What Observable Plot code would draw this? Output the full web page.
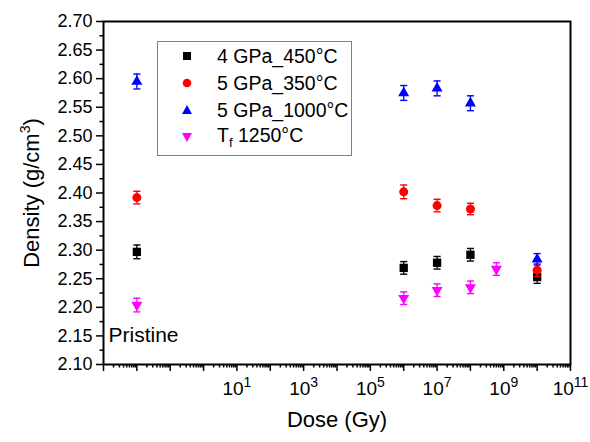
<!DOCTYPE html>
<html>
<head>
<meta charset="utf-8">
<script src="https://cdn.jsdelivr.net/npm/d3@7"></script>
<script src="https://cdn.jsdelivr.net/npm/@observablehq/plot@0.6"></script>
<style>
  body { margin: 0; background: white; }
  #wrap { position: relative; width: 590px; height: 442px; font-family: "Liberation Sans", Arial, sans-serif; }
  #legend { position: absolute; left: 157px; top: 41px; width: 195px; height: 115px; border: 1px solid #808080; background: white; box-sizing: border-box; }
  .row { position: absolute; left: 0; height: 26px; display: flex; align-items: center; font-size: 19.5px; color: #000; }
  .row svg { position: absolute; left: 23px; }
  .row span { position: absolute; left: 59px; white-space: nowrap; }
  sub { font-size: 13px; vertical-align: -5px; }
</style>
</head>
<body>
<div id="wrap"></div>
<script>
// ---- data ----
const seriesNames = ["4 GPa_450°C", "5 GPa_350°C", "5 GPa_1000°C", "T_f 1250°C"];
const seriesColors = ["#000000", "#ff0000", "#0000ff", "#ff00ff"];
const doseA = [0.01, 1e6, 1e7, 1e8, 1e10];          // 0.01 = pristine position
const doseTf = [0.01, 1e6, 1e7, 1e8, 6e8];
const density4_450 = [2.297, 2.269, 2.278, 2.292, 2.253];
const density5_350 = [2.392, 2.402, 2.378, 2.372, 2.265];
const density5_1000 = [2.595, 2.575, 2.583, 2.557, 2.284];
const densityTf = [2.204, 2.216, 2.230, 2.235, 2.267];
const err4_450 = [0.012, 0.011, 0.011, 0.011, 0.011];
const err5_350 = [0.011, 0.012, 0.011, 0.010, 0.011];
const err5_1000 = [0.013, 0.013, 0.013, 0.013, 0.010];
const errTf = [0.012, 0.011, 0.011, 0.011, 0.011];
const xMajorTicks = d3.range(-3, 12).map(e => Math.pow(10, e));
const xLabelExps = [1, 3, 5, 7, 9, 11];
const yTicks = d3.range(0, 13).map(i => +(2.10 + i * 0.05).toFixed(2));
const yMinorTicks = d3.range(0, 12).map(i => +(2.125 + i * 0.05).toFixed(3));
const annotation = ["Pristine"];

// ---- symbols ----
const triDown = {draw(ctx, size) {
  const y = Math.sqrt(size / (Math.sqrt(3) * 3));
  ctx.moveTo(0, y * 2); ctx.lineTo(-Math.sqrt(3) * y, -y); ctx.lineTo(Math.sqrt(3) * y, -y); ctx.closePath();
}};
const cap = {draw(ctx, size) { const w = Math.sqrt(size) / 2; ctx.moveTo(-w, 0); ctx.lineTo(w, 0); }};
const symbols = ["square", "circle", "triangle", triDown];
const radii = [4.7, 4.5, 4.1, 4.1];

const doses = [doseA, doseA, doseA, doseTf];
const vals = [density4_450, density5_350, density5_1000, densityTf];
const errs = [err4_450, err5_350, err5_1000, errTf];

const xMinor = [];
for (let e = -3; e < 11; e++) for (let k = 2; k <= 9; k++) xMinor.push(k * Math.pow(10, e));

const marks = [];
seriesNames.forEach((name, s) => {
  const rows = doses[s].map((d, i) => ({dose: d, y: vals[s][i], e: errs[s][i]}));
  const c = seriesColors[s];
  marks.push(Plot.ruleX(rows, {x: "dose", y1: d => d.y - d.e, y2: d => d.y + d.e, stroke: c, strokeWidth: 1.3}));
  marks.push(Plot.dot(rows, {x: "dose", y: d => d.y + d.e, symbol: cap, r: 4, stroke: c, strokeWidth: 1.4}));
  marks.push(Plot.dot(rows, {x: "dose", y: d => d.y - d.e, symbol: cap, r: 4, stroke: c, strokeWidth: 1.4}));
  marks.push(Plot.dot(rows, {x: "dose", y: "y", symbol: symbols[s], r: radii[s], fill: c, stroke: "none"}));
});

const chart = Plot.plot({
  width: 590, height: 442,
  marginLeft: 103, marginRight: 20, marginTop: 21, marginBottom: 78,
  style: {fontFamily: "Liberation Sans, Arial, sans-serif", fontSize: "17px", background: "white", color: "black", overflow: "visible"},
  x: {type: "log", domain: [1e-3, 1e11]},
  y: {domain: [2.10, 2.70]},
  marks: [
    Plot.axisX({ticks: xMinor, tickSize: 3.5, tickFormat: () => "", strokeWidth: 1.5, label: null}),
    Plot.axisX({ticks: xMajorTicks, tickSize: 7, strokeWidth: 1.5, tickPadding: 10, fontSize: 19,
      tickFormat: d => { const e = Math.round(Math.log10(d)); return xLabelExps.includes(e) ? "10^" + e : ""; },
      label: "Dose (Gy)", labelAnchor: "center", labelArrow: "none", labelOffset: 62}),
    Plot.axisY({ticks: yMinorTicks, tickSize: 3.5, tickFormat: () => "", strokeWidth: 1.5, label: null}),
    Plot.axisY({ticks: yTicks, tickSize: 7, strokeWidth: 1.5, tickPadding: 4, fontSize: 18, tickFormat: d3.format(".2f"),
      label: "Density (g/cm^3)", labelAnchor: "center", labelArrow: "none", labelOffset: 80}),
    Plot.frame({stroke: "black", strokeWidth: 2}),
    Plot.text(annotation, {frameAnchor: "bottom-left", dx: 5, dy: -23, textAnchor: "start", fontSize: 21, fill: "black"}),
    ...marks
  ]
});

// superscripts
function superscriptify(t, supSize) {
  const m = t.textContent.match(/^(.*)\^(\d+)(.*)$/);
  if (!m) return;
  const fs = parseFloat(getComputedStyle(t).fontSize) || 18;
  const raise = fs * 0.42;
  t.textContent = "";
  const ns = "http://www.w3.org/2000/svg";
  const a = document.createElementNS(ns, "tspan"); a.textContent = m[1]; t.appendChild(a);
  const b = document.createElementNS(ns, "tspan"); b.textContent = m[2]; b.setAttribute("dy", -raise); b.setAttribute("font-size", supSize); t.appendChild(b);
  if (m[3]) { const c = document.createElementNS(ns, "tspan"); c.textContent = m[3]; c.setAttribute("dy", raise); t.appendChild(c); }
}
document.getElementById("wrap").appendChild(chart);
chart.querySelectorAll('[aria-label="x-axis label"], [aria-label="y-axis label"]').forEach(g => g.setAttribute("font-size", 22));
chart.querySelectorAll('[aria-label="x-axis label"] text, [aria-label="y-axis label"] text').forEach(t => t.setAttribute("font-size", 22));
chart.querySelectorAll("text").forEach(t => { if (t.textContent.includes("^")) superscriptify(t, 14); });

// legend
const legend = document.createElement("div");
legend.id = "legend";
const symPaths = [
  '<rect x="2" y="2" width="8" height="8" fill="#000"/>',
  '<circle cx="6" cy="6" r="4.3" fill="#ff0000"/>',
  '<path d="M6,1 L11,10 L1,10 Z" fill="#0000ff"/>',
  '<path d="M6,11 L11,2 L1,2 Z" fill="#ff00ff"/>'
];
seriesNames.forEach((name, i) => {
  const row = document.createElement("div");
  row.className = "row";
  row.style.top = (1 + i * 27) + "px";
  row.style.width = "100%";
  const label = name.startsWith("T_f") ? 'T<sub>f</sub> 1250°C' : name;
  row.innerHTML = `<svg width="12" height="12" viewBox="0 0 12 12">${symPaths[i]}</svg><span>${label}</span>`;
  legend.appendChild(row);
});
document.getElementById("wrap").appendChild(legend);
</script>
</body>
</html>
